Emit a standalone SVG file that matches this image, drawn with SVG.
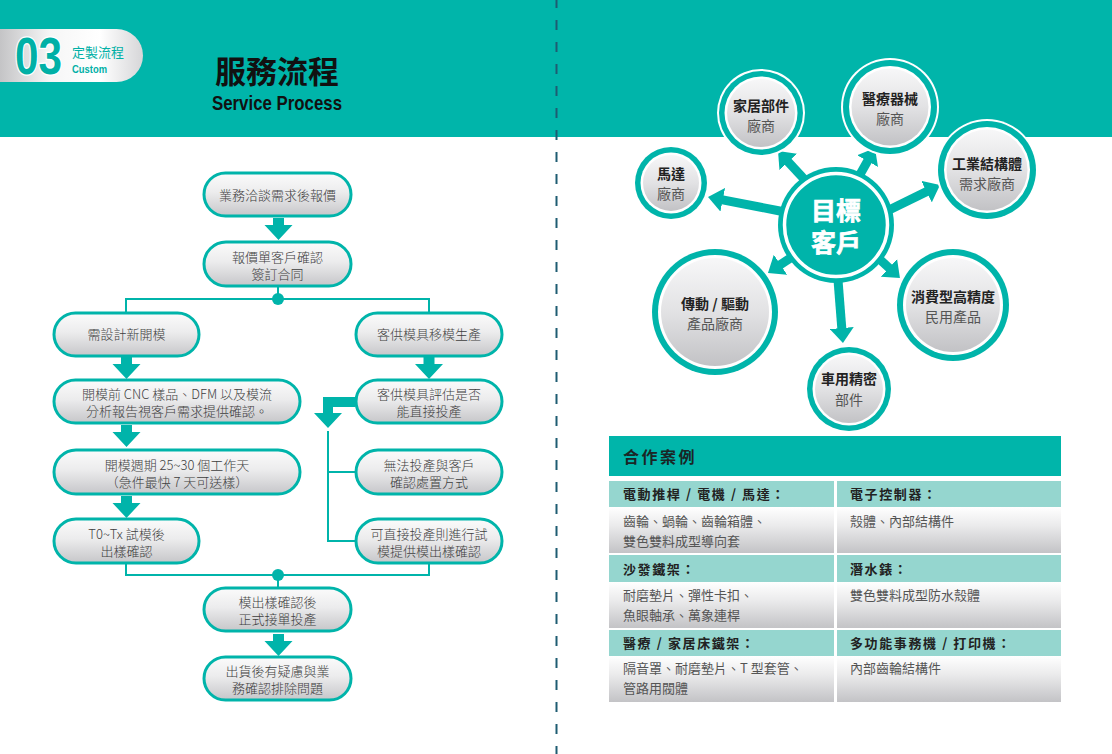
<svg xmlns="http://www.w3.org/2000/svg" width="1112" height="754" viewBox="0 0 1112 754">
<defs>
<linearGradient id="nodeGrad" x1="0" y1="0" x2="0" y2="1">
<stop offset="0" stop-color="#fbfbfb"/><stop offset="0.45" stop-color="#ececed"/><stop offset="1" stop-color="#c6c6c9"/>
</linearGradient>
<linearGradient id="cellGrad" x1="0" y1="0" x2="0" y2="1">
<stop offset="0" stop-color="#ffffff"/><stop offset="0.4" stop-color="#ebebec"/><stop offset="1" stop-color="#c3c3c6"/>
</linearGradient>
<linearGradient id="circGrad" x1="0" y1="0" x2="0" y2="1">
<stop offset="0" stop-color="#f7f7f8"/><stop offset="0.5" stop-color="#e2e2e4"/><stop offset="1" stop-color="#c2c2c5"/>
</linearGradient>
<linearGradient id="silver" x1="0" y1="0" x2="1" y2="0">
<stop offset="0" stop-color="#c4c4c6"/><stop offset="0.35" stop-color="#f6f6f6"/><stop offset="0.7" stop-color="#ffffff"/><stop offset="1" stop-color="#d6d6d8"/>
</linearGradient>
<path id="dArrow" d="M-5.5,0 H5.5 V7 H14 L0,22 L-14,7 H-5.5 Z" fill="#00b4aa"/>
<marker id="head" viewBox="0 0 15 24" markerWidth="15" markerHeight="24" refX="8" refY="12" orient="auto" markerUnits="userSpaceOnUse">
<path d="M0,0 L15,12 L0,24 Z" fill="#00b4aa"/>
</marker>
</defs>
<style>
.pill{fill:url(#nodeGrad);stroke:#00b4aa;stroke-width:3}
.nt{font-family:"Noto Sans CJK TC","Noto Sans",sans-serif;font-size:13px;fill:#3e3e3e;text-anchor:middle;font-weight:300}
.con{fill:none;stroke:#00b4aa;stroke-width:2}
.dot{fill:#00b4aa}
.sat-b{font-family:"Noto Sans CJK TC",sans-serif;font-size:14px;font-weight:700;fill:#222;text-anchor:middle}
.sat-r{font-family:"Noto Sans CJK TC",sans-serif;font-size:14px;fill:#555;text-anchor:middle}
.arr{stroke:#00b4aa;stroke-width:9;marker-end:url(#head)}
.th{fill:#95d6cf}
.td{fill:url(#cellGrad)}
.tht{font-family:"Noto Sans CJK TC",sans-serif;font-size:13px;font-weight:700;fill:#222;letter-spacing:1.6px}
.tdt{font-family:"Noto Sans CJK TC",sans-serif;font-size:13px;fill:#555}
.ct{font-family:"Noto Sans CJK TC",sans-serif;font-weight:700;font-size:25px;fill:#ffffff;text-anchor:middle;stroke:#ffffff;stroke-width:0.7px}
</style>
<rect width="1112" height="754" fill="#ffffff"/>
<rect x="0" y="0" width="1112" height="137" fill="#00b5aa"/>
<line x1="556.5" y1="-2" x2="556.5" y2="754" stroke="#1e5c72" stroke-width="2" stroke-dasharray="10 12"/>

<g id="header">
<path d="M0,29 H116.5 A26.5,26.5 0 0 1 116.5,82 H0 Z" fill="url(#silver)"/>
<text x="15" y="74" font-family="Liberation Sans, Arial, sans-serif" font-weight="700" font-size="51" textLength="47" lengthAdjust="spacingAndGlyphs" fill="#00b0a6" stroke="#ffffff" stroke-width="2.5" paint-order="stroke">03</text>
<text x="72" y="57" font-family="Noto Sans CJK TC, sans-serif" font-size="13" fill="#00b0a6">定製流程</text>
<text x="72" y="73" font-family="Liberation Sans, Arial, sans-serif" font-weight="700" font-size="11" textLength="35" lengthAdjust="spacingAndGlyphs" fill="#00b0a6">Custom</text>
<text x="277" y="83" font-family="Noto Sans CJK TC, sans-serif" font-weight="700" font-size="31" fill="#111" text-anchor="middle">服務流程</text>
<text x="212" y="110" font-family="Liberation Sans, Arial, sans-serif" font-weight="700" font-size="21" textLength="130" lengthAdjust="spacingAndGlyphs" fill="#111">Service Process</text>
</g>

<g id="flow-connectors">
<use href="#dArrow" x="278.5" y="218"/>
<use href="#dArrow" x="126.5" y="357"/>
<use href="#dArrow" x="429" y="357"/>
<use href="#dArrow" x="126.5" y="425"/>
<use href="#dArrow" x="126.5" y="496"/>
<use href="#dArrow" x="278.5" y="634"/>
<path class="con" d="M278,286 V299 M126,313 V299 H429 V313"/>
<circle class="dot" cx="278" cy="299" r="6"/>
<path d="M355,397 V407 H333 V413 H342 L328,428 L314,413 H323 V397 Z" fill="#00b4aa"/>
<path class="con" d="M328,431 V541 H356 M328,472 H356"/>
<path class="con" d="M126,563 V575 H429 V563 M278,575 V588"/>
<circle class="dot" cx="278" cy="575" r="6"/>
</g>

<g id="n1"><rect class="pill" x="204" y="173" width="147" height="43" rx="21.5"/><text class="nt" x="277.5" y="200">業務洽談需求後報價</text></g>
<g id="n2"><rect class="pill" x="204" y="242" width="147" height="44" rx="22"/><text class="nt" x="277.5" y="262">報價單客戶確認</text><text class="nt" x="277.5" y="279">簽訂合同</text></g>
<g id="n3"><rect class="pill" x="54" y="313" width="145" height="43" rx="21.5"/><text class="nt" x="126.5" y="339">需設計新開模</text></g>
<g id="n4"><rect class="pill" x="356" y="313" width="146" height="43" rx="21.5"/><text class="nt" x="429" y="339">客供模具移模生產</text></g>
<g id="n5"><rect class="pill" x="54" y="380" width="246" height="43" rx="21.5"/><text class="nt" x="177" y="399">開模前 CNC 樣品、DFM 以及模流</text><text class="nt" x="177" y="416">分析報告視客戶需求提供確認。</text></g>
<g id="n6"><rect class="pill" x="356" y="380" width="146" height="43" rx="21.5"/><text class="nt" x="429" y="399">客供模具評估是否</text><text class="nt" x="429" y="416">能直接投產</text></g>
<g id="n7"><rect class="pill" x="356" y="450" width="146" height="44" rx="22"/><text class="nt" x="429" y="470">無法投產與客戶</text><text class="nt" x="429" y="487">確認處置方式</text></g>
<g id="n9"><rect class="pill" x="54" y="450" width="246" height="44" rx="22"/><text class="nt" x="177" y="470">開模週期 25~30 個工作天</text><text class="nt" x="177" y="487">（急件最快 7 天可送樣）</text></g>
<g id="n8"><rect class="pill" x="356" y="519" width="146" height="44" rx="22"/><text class="nt" x="429" y="539">可直接投產則進行試</text><text class="nt" x="429" y="556">模提供模出樣確認</text></g>
<g id="n10"><rect class="pill" x="54" y="519" width="145" height="44" rx="22"/><text class="nt" x="126.5" y="539">T0~Tx 試模後</text><text class="nt" x="126.5" y="556">出樣確認</text></g>
<g id="n11"><rect class="pill" x="204" y="588" width="147" height="43" rx="21.5"/><text class="nt" x="277.5" y="607">模出樣確認後</text><text class="nt" x="277.5" y="624">正式接單投產</text></g>
<g id="n12"><rect class="pill" x="204" y="657" width="147" height="43" rx="21.5"/><text class="nt" x="277.5" y="676">出貨後有疑慮與業</text><text class="nt" x="277.5" y="693">務確認排除問題</text></g>

<g id="radial-connectors">
<line class="arr" x1="785" y1="212" x2="714.9" y2="198.3"/>
<line class="arr" x1="805" y1="180" x2="782.8" y2="156.1"/>
<line class="arr" x1="858" y1="178" x2="871.5" y2="154.1"/>
<line class="arr" x1="885" y1="212" x2="933.7" y2="188.1"/>
<line class="arr" x1="795" y1="255" x2="773.8" y2="269.1"/>
<line class="arr" x1="875" y1="255" x2="894.8" y2="273.3"/>
<line class="arr" x1="838" y1="280" x2="842.4" y2="336"/>
</g>

<g id="center">
<circle cx="836" cy="225" r="58" fill="#00b4aa"/>
<circle cx="836" cy="225" r="51.5" fill="none" stroke="#ffffff" stroke-width="3.5"/>
<text class="ct" x="836" y="220">目標</text>
<text class="ct" x="836" y="252">客戶</text>
</g>

<g id="s-motor">
<circle cx="671" cy="183" r="37.5" fill="#ffffff"/><circle cx="671" cy="183" r="36" fill="#00b4aa"/><circle cx="671" cy="183" r="30.5" fill="#ffffff"/><circle cx="671" cy="183" r="28" fill="url(#circGrad)"/>
<text class="sat-b" x="671" y="179">馬達</text><text class="sat-r" x="671" y="199">廠商</text>
</g>
<g id="s-home">
<circle cx="761" cy="113" r="44" fill="#ffffff"/><circle cx="761" cy="113" r="42" fill="#00b4aa"/><circle cx="761" cy="113" r="36.5" fill="#ffffff"/><circle cx="761" cy="113" r="34" fill="url(#circGrad)"/>
<text class="sat-b" x="761" y="111">家居部件</text><text class="sat-r" x="761" y="131">廠商</text>
</g>
<g id="s-medical">
<circle cx="890" cy="107" r="49" fill="#ffffff"/><circle cx="890" cy="107" r="47" fill="#00b4aa"/><circle cx="890" cy="107" r="41" fill="#ffffff"/><circle cx="890" cy="107" r="38.5" fill="url(#circGrad)"/>
<text class="sat-b" x="890" y="104">醫療器械</text><text class="sat-r" x="890" y="124">廠商</text>
</g>
<g id="s-industrial">
<circle cx="987" cy="170" r="51" fill="#ffffff"/><circle cx="987" cy="170" r="49" fill="#00b4aa"/><circle cx="987" cy="170" r="43" fill="#ffffff"/><circle cx="987" cy="170" r="40.5" fill="url(#circGrad)"/>
<text class="sat-b" x="987" y="169">工業結構體</text><text class="sat-r" x="987" y="189">需求廠商</text>
</g>
<g id="s-drive">
<circle cx="715" cy="312" r="63" fill="#00b4aa"/><circle cx="715" cy="312" r="57" fill="#ffffff"/><circle cx="715" cy="312" r="54" fill="url(#circGrad)"/>
<text class="sat-b" x="715" y="309">傳動 / 驅動</text><text class="sat-r" x="715" y="329">產品廠商</text>
</g>
<g id="s-consumer">
<circle cx="953" cy="305" r="56" fill="#00b4aa"/><circle cx="953" cy="305" r="50" fill="#ffffff"/><circle cx="953" cy="305" r="47" fill="url(#circGrad)"/>
<text class="sat-b" x="953" y="302">消費型高精度</text><text class="sat-r" x="953" y="322">民用產品</text>
</g>
<g id="s-auto">
<circle cx="849" cy="389" r="42" fill="#00b4aa"/><circle cx="849" cy="389" r="36.5" fill="#ffffff"/><circle cx="849" cy="389" r="34" fill="url(#circGrad)"/>
<text class="sat-b" x="849" y="384">車用精密</text><text class="sat-r" x="849" y="405">部件</text>
</g>

<g id="cases">
<rect x="609" y="436" width="452" height="40" fill="#00b5aa"/>
<text x="623" y="463" font-family="Noto Sans CJK TC, sans-serif" font-weight="700" font-size="16" fill="#1a2626" letter-spacing="2.5">合作案例</text>
<rect class="th" x="609" y="481" width="225" height="26"/><rect class="th" x="837" y="481" width="224" height="26"/>
<rect class="td" x="609" y="507" width="225" height="46"/><rect class="td" x="837" y="507" width="224" height="46"/>
<rect class="th" x="609" y="555" width="225" height="27"/><rect class="th" x="837" y="555" width="224" height="27"/>
<rect class="td" x="609" y="582" width="225" height="46"/><rect class="td" x="837" y="582" width="224" height="46"/>
<rect class="th" x="609" y="630" width="225" height="26"/><rect class="th" x="837" y="630" width="224" height="26"/>
<rect class="td" x="609" y="656" width="225" height="46"/><rect class="td" x="837" y="656" width="224" height="46"/>
<text class="tht" x="623" y="499">電動推桿 / 電機 / 馬達：</text>
<text class="tht" x="850" y="499">電子控制器：</text>
<text class="tdt" x="623" y="526">齒輪、蝸輪、齒輪箱體、</text>
<text class="tdt" x="623" y="546">雙色雙料成型導向套</text>
<text class="tdt" x="850" y="526">殼體、內部結構件</text>
<text class="tht" x="623" y="574">沙發鐵架：</text>
<text class="tht" x="850" y="574">潛水錶：</text>
<text class="tdt" x="623" y="600">耐磨墊片、彈性卡扣、</text>
<text class="tdt" x="623" y="620">魚眼軸承、萬象連桿</text>
<text class="tdt" x="850" y="600">雙色雙料成型防水殼體</text>
<text class="tht" x="623" y="648">醫療 / 家居床鐵架：</text>
<text class="tht" x="850" y="648">多功能事務機 / 打印機：</text>
<text class="tdt" x="623" y="673">隔音罩、耐磨墊片、T 型套管、</text>
<text class="tdt" x="623" y="693">管路用閥體</text>
<text class="tdt" x="850" y="673">內部齒輪結構件</text>
</g>
</svg>
